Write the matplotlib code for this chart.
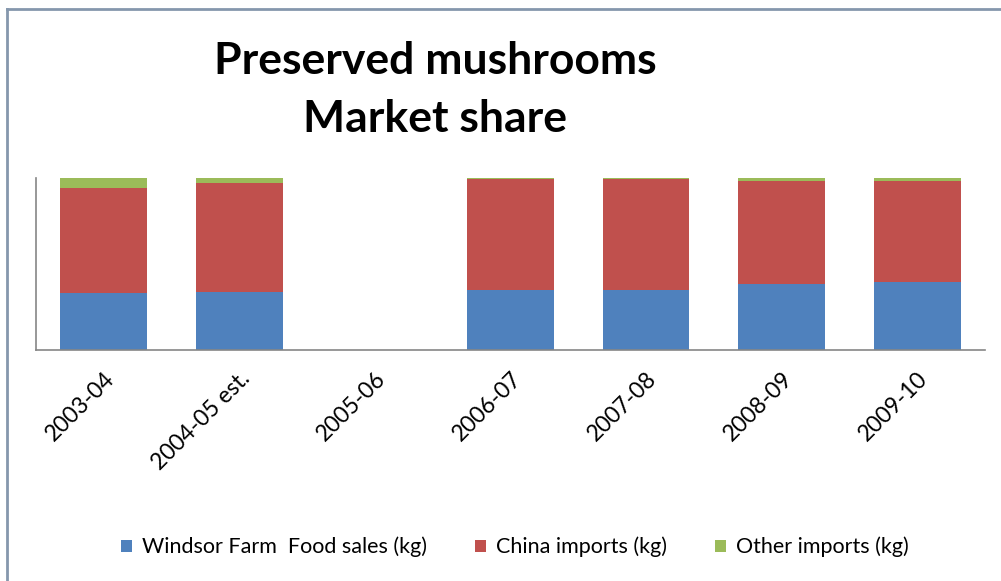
import numpy as np
import matplotlib.pyplot as plt
from matplotlib.lines import Line2D

# market share (%)
years = ['2003-04', '2004-05 est.', '2005-06', '2006-07', '2007-08', '2008-09', '2009-10']
windsor = [33.0, 34.0, 0, 35.0, 35.0, 38.4, 39.4]
china = [61.2, 63.1, 0, 64.5, 64.5, 59.8, 59.0]
other = [5.8, 2.9, 0, 0.5, 0.5, 1.8, 1.6]

blue = "#4F81BD"
red = "#C0504D"
green = "#9BBB59"

plt.rcParams['font.family'] = ['Lato', 'DejaVu Sans']

fig = plt.figure(figsize=(10.01, 5.81), dpi=100)
W, H = 1001, 581
ax = fig.add_axes([36 / W, (H - 350) / H, (985 - 36) / W, (350 - 178) / H])

x = np.arange(len(years))
windsor = np.array(windsor)
china = np.array(china)
other = np.array(other)
bw = 0.64
ax.bar(x, windsor, bw, color=blue, label='Windsor Farm  Food sales (kg)')
ax.bar(x, china, bw, bottom=windsor, color=red, label='China imports (kg)')
ax.bar(x, other, bw, bottom=windsor + china, color=green, label='Other imports (kg)')

ax.set_xlim(-0.5, len(years) - 0.5)
ax.set_ylim(0, 100)
ax.set_yticks([])
ax.set_xticks(x)
ax.set_xticklabels(years, rotation=45, ha='right', rotation_mode='anchor', fontsize=16.5)
ax.tick_params(axis='x', length=0, pad=13)
for s in ['top', 'right']:
    ax.spines[s].set_visible(False)
for s in ['left', 'bottom']:
    ax.spines[s].set_color('#868686')
    ax.spines[s].set_linewidth(1.2)

fig.text(435 / W, 1 - 61 / H, 'Preserved mushrooms', ha='center', va='center',
         fontsize=32, fontweight='bold')
fig.text(435 / W, 1 - 119 / H, 'Market share', ha='center', va='center',
         fontsize=32, fontweight='bold')

handles, labels = ax.get_legend_handles_labels()
fig.legend(handles, labels, loc='center', bbox_to_anchor=(515 / W, 1 - 547 / H),
           ncol=3, frameon=False, fontsize=15.5, handlelength=0.5, handleheight=0.5,
           handletextpad=0.5, columnspacing=2.2)

# outer chart frame (only top and left edges visible in the crop)
fig.add_artist(Line2D([7 / W, 1], [1 - 9 / H, 1 - 9 / H], color='#8597ad', lw=2))
fig.add_artist(Line2D([7 / W, 7 / W], [0, 1 - 9 / H], color='#8597ad', lw=2))

fig.savefig('out.png', dpi=100)
